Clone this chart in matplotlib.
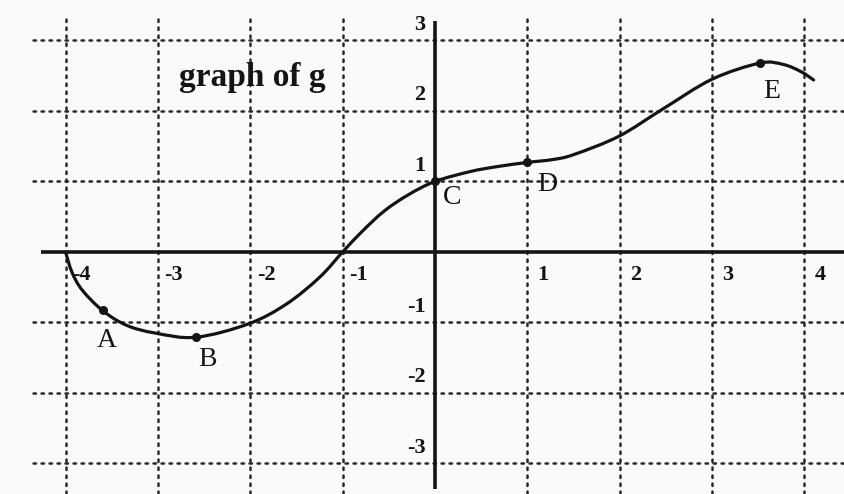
import matplotlib
matplotlib.use("Agg")
import matplotlib.pyplot as plt
from matplotlib.path import Path
from matplotlib.patches import PathPatch

# Points along the graph of g
curve_x = [-4.0, -3.93, -3.82, -3.60, -3.34, -3.03, -2.59, -2.02, -1.61,
           -1.25, -1.0, -0.79, -0.55, -0.29, 0.0, 0.38, 0.67, 1.0, 1.27,
           1.50, 1.99, 2.47, 3.0, 3.52, 3.77, 3.96, 4.10]
curve_y = [0.0, -0.29, -0.54, -0.83, -1.04, -1.15, -1.21, -1.02, -0.74,
           -0.36, 0.0, 0.29, 0.58, 0.81, 1.0, 1.14, 1.21, 1.27, 1.31,
           1.38, 1.64, 2.03, 2.45, 2.68, 2.66, 2.56, 2.44]

# Labelled points on the curve
point_names = ["A", "B", "C", "D", "E"]
point_x = [-3.60, -2.59, 0.0, 1.0, 3.52]
point_y = [-0.83, -1.21, 1.0, 1.27, 2.68]

x_ticks = [-4, -3, -2, -1, 1, 2, 3, 4]
y_ticks = [-3, -2, -1, 1, 2, 3]
title_text = "graph of g"

ink = "#141414"
grid_ink = "#2a2a2a"
serif = ["Liberation Serif", "DejaVu Serif"]


def smooth_path(xs, ys):
    """Cubic Bezier path through the given points (Catmull-Rom tangents)."""
    pts = list(zip(xs, ys))
    verts = [pts[0]]
    codes = [Path.MOVETO]
    n = len(pts)
    for i in range(n - 1):
        p0 = pts[i - 1] if i > 0 else pts[i]
        p1 = pts[i]
        p2 = pts[i + 1]
        p3 = pts[i + 2] if i + 2 < n else pts[i + 1]
        c1 = (p1[0] + (p2[0] - p0[0]) / 6.0, p1[1] + (p2[1] - p0[1]) / 6.0)
        c2 = (p2[0] - (p3[0] - p1[0]) / 6.0, p2[1] - (p3[1] - p1[1]) / 6.0)
        verts += [c1, c2, p2]
        codes += [Path.CURVE4] * 3
    return Path(verts, codes)


fig = plt.figure(figsize=(8.45, 4.94), dpi=100, facecolor="#fafafa")
ax = fig.add_axes([0, 0, 1, 1])
ax.set_facecolor("#fafafa")
ax.set_xlim(-4.71, 4.44)
ax.set_ylim(-3.433, 3.574)
ax.axis("off")

# dotted grid
dot_style = dict(color=grid_ink, lw=1.8, linestyle=(0, (1.0, 2.2)),
                 dash_capstyle="round", zorder=1)
for gx in x_ticks:
    ax.plot([gx, gx], [3.3, -3.6], **dot_style)
for gy in y_ticks:
    ax.plot([-4.35, 4.6], [gy, gy], **dot_style)

# axes
ax.plot([-4.27, 4.6], [0, 0], color=ink, lw=2.6, solid_capstyle="butt", zorder=2)
ax.plot([0, 0], [3.27, -3.36], color=ink, lw=2.6, solid_capstyle="butt", zorder=2)

# tick labels
for gx in x_ticks:
    ax.text(gx + 0.17, -0.33, str(gx), ha="center", va="center",
            fontsize=16, fontweight="bold", family=serif, color=ink, zorder=3)
for gy in y_ticks:
    ax.text(-0.1, gy + 0.22, str(gy), ha="right", va="center",
            fontsize=16, fontweight="bold", family=serif, color=ink, zorder=3)

# the curve and its marked points
ax.add_patch(PathPatch(smooth_path(curve_x, curve_y), facecolor="none",
                       edgecolor=ink, lw=2.3, capstyle="round",
                       joinstyle="round", zorder=4))
ax.plot(point_x, point_y, "o", color=ink, ms=5.5, zorder=5)

label_offsets = {"A": (0.05, -0.43), "B": (0.13, -0.31), "C": (0.19, -0.23),
                 "D": (0.22, -0.32), "E": (0.13, -0.41)}
for name, px, py in zip(point_names, point_x, point_y):
    dx, dy = label_offsets[name]
    ax.text(px + dx, py + dy, name, ha="center", va="center", fontsize=20,
            family=serif, color=ink, zorder=5)

ax.text(-1.98, 2.35, title_text, ha="center", va="baseline", fontsize=24,
        fontweight="bold", family=serif, color=ink, zorder=3)

fig.savefig("out.png", dpi=100, facecolor=fig.get_facecolor())
